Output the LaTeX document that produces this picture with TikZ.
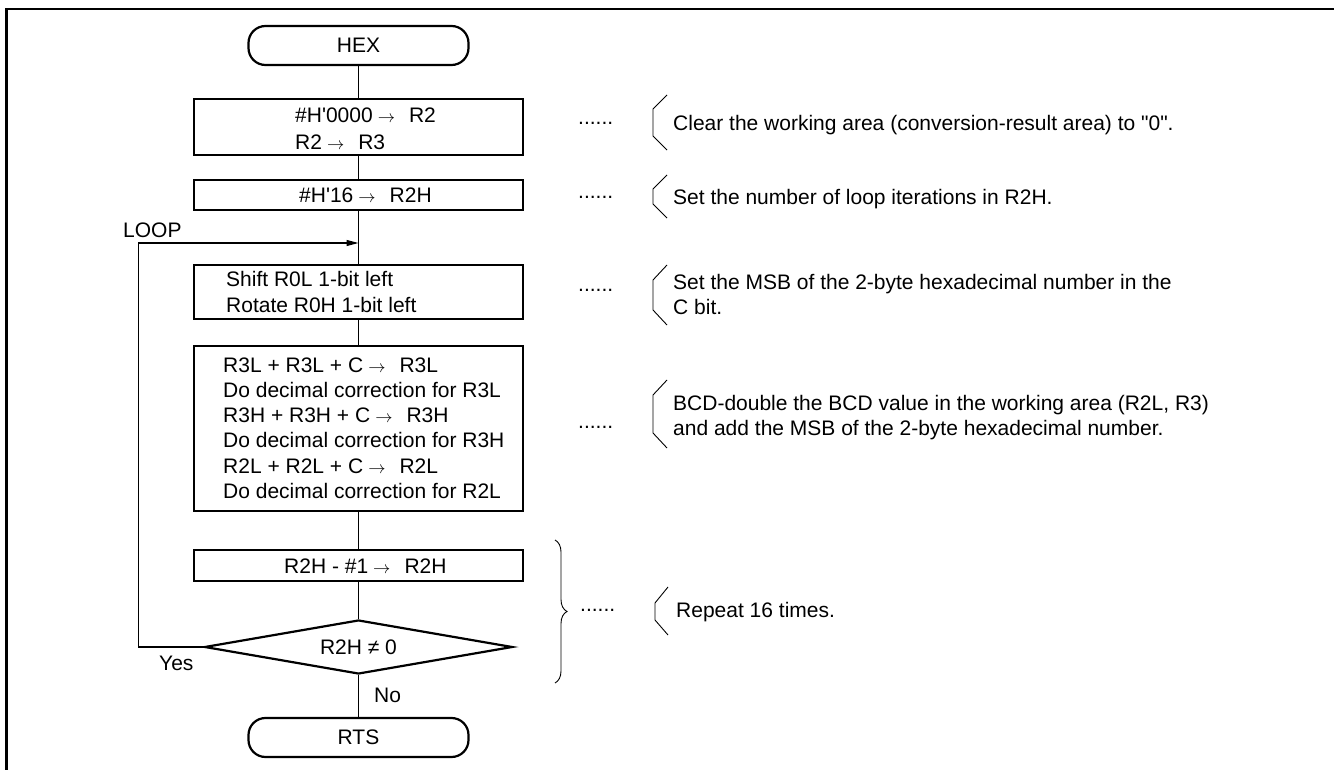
\documentclass[tikz,border=0pt]{standalone}
\usepackage{fontspec}
\setmainfont{Liberation Sans}[Ligatures=TeXOff]
\usetikzlibrary{shapes.geometric,arrows.meta,decorations.pathreplacing}
\newcommand\fs{\fontsize{21pt}{25.2pt}\selectfont}
\newcommand\myarr{\kern5pt{\fontsize{17pt}{17pt}\selectfont$\rightarrow$}\kern14pt}
\begin{document}
\begin{tikzpicture}[x=1pt,y=-1pt,font=\fs,
  term/.style={draw, line width=2.2pt, rounded corners=17pt, minimum width=220pt, minimum height=39pt, inner sep=0pt},
  proc/.style={draw, line width=2.2pt, minimum width=329pt, inner sep=0pt},
  dec/.style={draw, diamond, line width=2.2pt, aspect=5.7, minimum width=308pt, minimum height=54pt, inner sep=0pt},
  txt/.style={inner sep=0pt, align=left, anchor=west},
  btxt/.style={inner sep=0pt, anchor=base west},
  conn/.style={line width=1.1pt},
  brk/.style={line width=0.9pt},
]
\useasboundingbox (0,0) rectangle (1334,770);
% frame
\draw[line width=2.6pt] (6.5,770) -- (6.5,9) -- (1334,9);

% flowchart nodes
\node[term] (hex) at (358.5,45.5) {HEX};
\node[proc, minimum height=56pt] (b1) at (358.5,127) {};
\node[txt] (b1t) at (295,128.5) {\#H'0000\myarr R2\\[1.8pt]R2\myarr R3};
\node[proc, minimum height=30pt] (b2) at (358.5,195) {};
\node[btxt] (b2t) at (299,202.5) {\#H'16\myarr R2H};
\node[proc, minimum height=54pt] (b3) at (358.5,292) {};
\node[txt] (b3t) at (226,292) {Shift R0L 1-bit left\\[0.8pt]Rotate R0H 1-bit left};
\node[proc, minimum height=165pt] (b4) at (358.5,428.5) {};
\node[txt] (b4t) at (223,428) {R3L + R3L + C\myarr R3L\\
Do decimal correction for R3L\\
R3H + R3H + C\myarr R3H\\
Do decimal correction for R3H\\
R2L + R2L + C\myarr R2L\\
Do decimal correction for R2L};
\node[proc, minimum height=31pt] (b5) at (358.5,565.5) {};
\node[btxt] (b5t) at (284,573) {R2H - \#1\myarr R2H};
\node[dec] (dia) at (358.5,647) {R2H ≠ 0};
\node[term] (rts) at (358.5,737.5) {RTS};

% labels
\node[btxt] (loop) at (123,237.5) {LOOP};
\node[btxt] (yes) at (159,670) {Yes};
\node[btxt] (no) at (374,702.5) {No};

% connectors
\coordinate (m) at (358.5,243);
\draw[conn] (hex.south) -- (b1.north);
\draw[conn] (b1.south) -- (b2.north);
\draw[conn] (b2.south) -- (b3.north);
\draw[conn] (b3.south) -- (b4.north);
\draw[conn] (b4.south) -- (b5.north);
\draw[conn] (b5.south) -- (dia.north);
\draw[conn] (dia.south) -- (rts.north);
\draw[conn,-{Triangle[length=12pt,width=6pt]}] (dia.west) -- ++(-65,0) |- (m);

% annotations
\node[btxt] (d1) at (578,124.5) {......};
\draw[brk] (667,95) -- (653,109) -- (653,136) -- (667,150);
\node[btxt] (n1) at (673,130.5) {Clear the working area (conversion-result area) to "0".};

\node[btxt] (d2) at (578,198.5) {......};
\draw[brk] (667,175) -- (653,189) -- (653,204) -- (667,218);
\node[btxt] (n2) at (673,204.5) {Set the number of loop iterations in R2H.};

\node[btxt] (d3) at (578,291.5) {......};
\draw[brk] (667,265) -- (653,280) -- (653,310) -- (667,325);
\node[txt] (n3) at (673,294.5) {Set the MSB of the 2-byte hexadecimal number in the\\C bit.};

\node[btxt] (d4) at (578,428.5) {......};
\draw[brk] (667,380) -- (653,395) -- (653,433) -- (667,448);
\node[txt] (n4) at (673,417.5) {BCD-double the BCD value in the working area (R2L, R3)\\and add the MSB of the 2-byte hexadecimal number.};

\draw[brk, decorate, decoration={brace, amplitude=12pt}] (555,540) -- (555,683);
\node[btxt] (d5) at (580,611.5) {......};
\draw[brk] (668,587) -- (655,603) -- (655,620) -- (668,635);
\node[btxt] (n5) at (676,617.5) {Repeat 16 times.};
\end{tikzpicture}
\end{document}
